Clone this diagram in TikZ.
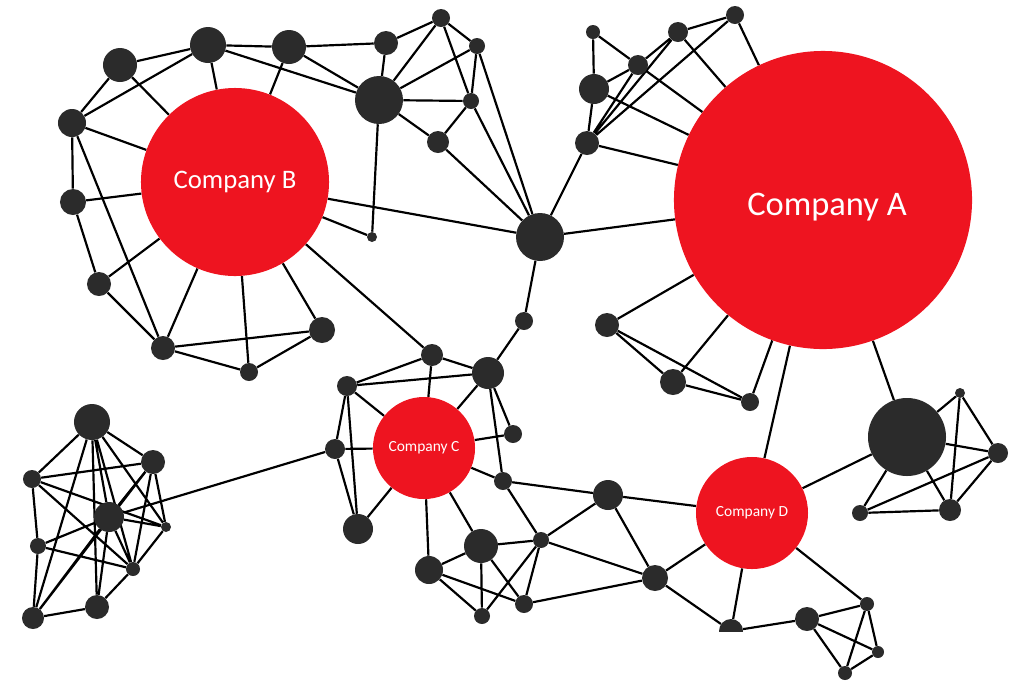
\documentclass[tikz,border=0pt]{standalone}
\usepackage{fontspec}
\setmainfont{Carlito}
\usetikzlibrary{backgrounds}
\definecolor{compred}{RGB}{238,20,32}
\definecolor{knot}{RGB}{43,43,43}

\begin{document}
\begin{tikzpicture}[x=0.025cm, y=-0.025cm,
  member/.style={circle, fill=knot, inner sep=0pt, minimum size=#1*0.5mm},
  company/.style={circle, fill=compred, text=white, inner sep=0pt, minimum size=#1*0.5mm},
  wire/.style={line width=1.55pt, black}]
\useasboundingbox (0,0) rectangle (1020,680);

% companies
\node[company=149, label={[text=white, font=\fontsize{24.5}{25}\selectfont, yshift=-0.17cm, xshift=0.1cm]center:Company A}] (A) at (823,200) {};
\node[company=94, font=\fontsize{19}{20}\selectfont] (B) at (235,182) {Company B};
\node[company=51, font=\fontsize{11}{12}\selectfont] (C) at (424,448) {Company C};
\node[company=56, font=\fontsize{11}{12}\selectfont] (D) at (752,513) {Company D};

% around B
\node[member=17] (b1) at (120,65) {};
\node[member=18] (b2) at (208,45) {};
\node[member=17] (b3) at (289,47) {};
\node[member=14] (b4) at (72,123) {};
\node[member=13] (b5) at (73,202) {};
\node[member=12] (b6) at (99,284) {};
\node[member=12] (b7) at (163,348) {};
\node[member=9] (b8) at (249,372) {};
\node[member=13] (b9) at (322,330) {};

% top middle
\node[member=12] (m1) at (386,43) {};
\node[member=24] (m2) at (379,100) {};
\node[member=9] (m3) at (441,18) {};
\node[member=8] (m4) at (477,46) {};
\node[member=8] (m5) at (471,101) {};
\node[member=11] (m6) at (438,142) {};
\node[member=5] (m7) at (372,237) {};
\node[member=24] (hub) at (540,237) {};

% top right
\node[member=7] (a1) at (593,32) {};
\node[member=10] (a2) at (638,65) {};
\node[member=10] (a3) at (678,32) {};
\node[member=9] (a4) at (735,15) {};
\node[member=15] (a5) at (594,89) {};
\node[member=12] (a6) at (587,143) {};

% below A
\node[member=12] (a7) at (607,325) {};
\node[member=13] (a8) at (673,382) {};
\node[member=9] (a9) at (750,402) {};
\node[member=39] (big) at (907,437) {};
\node[member=5] (e1) at (960,393) {};
\node[member=10] (e2) at (998,453) {};
\node[member=8] (e3) at (860,513) {};
\node[member=11] (e4) at (950,510) {};

% middle
\node[member=9] (c1) at (524,321) {};
\node[member=16] (c2) at (488,373) {};
\node[member=11] (c3) at (432,355) {};
\node[member=10] (c4) at (347,386) {};
\node[member=10] (c5) at (335,449) {};
\node[member=9] (c6) at (513,434) {};
\node[member=15] (c7) at (358,529) {};
\node[member=9] (c8) at (503,481) {};
\node[member=15] (c9) at (608,495) {};

% bottom
\node[member=17] (d1) at (481,546) {};
\node[member=14] (d2) at (429,570) {};
\node[member=8] (d3) at (541,540) {};
\node[member=8] (d4) at (482,616) {};
\node[member=9] (d5) at (524,604) {};
\node[member=13] (d6) at (655,578) {};
\begin{scope}
\clip (700,600) rectangle (765,631);
\node[member=12] (d7) at (731,631) {};
\end{scope}
\node[member=12] (d8) at (807,619) {};
\node[member=7] (d9) at (867,604) {};
\node[member=6] (d10) at (878,652) {};
\node[member=7] (d11) at (845,673) {};

% left
\node[member=18] (l1) at (92,422) {};
\node[member=12] (l2) at (153,462) {};
\node[member=9] (l3) at (32,479) {};
\node[member=15] (l4) at (109,517) {};
\node[member=5] (l5) at (166,527) {};
\node[member=8] (l6) at (38,546) {};
\node[member=7] (l7) at (133,569) {};
\node[member=11] (l8) at (33,618) {};
\node[member=12] (l9) at (97,607) {};

\begin{pgfonlayer}{background}
\draw[wire]
(b1) -- (b2) (b2) -- (b3) (b3) -- (m1) (b1) -- (b4) (b1) -- (B)
(b2) -- (b4) (b2) -- (B) (b3) -- (B) (b2) -- (m2) (b3) -- (m2)
(b4) -- (B) (b4) -- (b5) (b4) -- (b7) (b5) -- (B) (b5) -- (b6)
(b6) -- (B) (b6) -- (b7) (b7) -- (B) (b7) -- (b8) (b7) -- (b9)
(b8) -- (B) (b8) -- (b9) (b9) -- (B) (B) -- (c3) (B) -- (hub) (B) -- (m7);

\draw[wire]
(m1) -- (m3) (m1) -- (m2) (m2) -- (m3) (m2) -- (m4) (m2) -- (m5)
(m2) -- (m6) (m3) -- (m4) (m3) -- (m5) (m4) -- (m5) (m5) -- (m6)
(m6) -- (hub) (m5) -- (hub) (m4) -- (hub) (m7) -- (m2)
(hub) -- (a6) (hub) -- (A) (hub) -- (c1);

\draw[wire]
(a1) -- (a5) (a1) -- (a2) (a2) -- (A) (a2) -- (a3) (a2) -- (a5)
(a3) -- (a4) (a3) -- (a6) (a4) -- (a6) (a2) -- (a6) (a4) -- (A)
(a3) -- (A) (a5) -- (A) (a6) -- (A) (a5) -- (a6);

\draw[wire]
(A) -- (a7) (a7) -- (a8) (a7) -- (a9) (a8) -- (a9) (a8) -- (A)
(a9) -- (A) (A) -- (D) (A) -- (big)
(big) -- (e1) (big) -- (e2) (big) -- (e3) (big) -- (e4) (e1) -- (e2)
(e1) -- (e4) (e2) -- (e3) (e2) -- (e4) (e3) -- (e4) (D) -- (big);

\draw[wire]
(c1) -- (c2) (c3) -- (c2) (c3) -- (c4) (c3) -- (C) (c4) -- (c2)
(c4) -- (C) (c4) -- (c5) (c4) -- (c7) (c5) -- (C) (c5) -- (c7)
(c5) -- (l4) (c2) -- (C) (c2) -- (c6) (c2) -- (c8) (C) -- (c6)
(C) -- (c8) (C) -- (c7) (C) -- (d2) (C) -- (d1) (c8) -- (c9)
(c8) -- (d3) (c9) -- (d3) (c9) -- (d6) (c9) -- (D);

\draw[wire]
(d1) -- (d3) (d1) -- (d2) (d2) -- (d4) (d2) -- (d5) (d1) -- (d4)
(d1) -- (d5) (d3) -- (d4) (d3) -- (d5) (d3) -- (d6) (d5) -- (d6)
(D) -- (d6) (d6) -- (d7) (D) -- (d7) (D) -- (d9) (d7) -- (d8)
(d8) -- (d9) (d8) -- (d10) (d8) -- (d11) (d9) -- (d10) (d9) -- (d11)
(d10) -- (d11);

\draw[wire]
(l1) -- (l3) (l1) -- (l8) (l1) -- (l9) (l1) -- (l4) (l1) -- (l7)
(l1) -- (l5) (l1) -- (l2) (l3) -- (l2) (l3) -- (l6) (l3) -- (l7)
(l3) -- (l5) (l2) -- (l4) (l2) -- (l7) (l2) -- (l5) (l2) -- (l8)
(l4) -- (l6) (l4) -- (l5) (l4) -- (l7) (l4) -- (l9) (l4) -- (l8)
(l6) -- (l8) (l6) -- (l7) (l7) -- (l9) (l7) -- (l5) (l8) -- (l9);
\end{pgfonlayer}
\end{tikzpicture}
\end{document}
